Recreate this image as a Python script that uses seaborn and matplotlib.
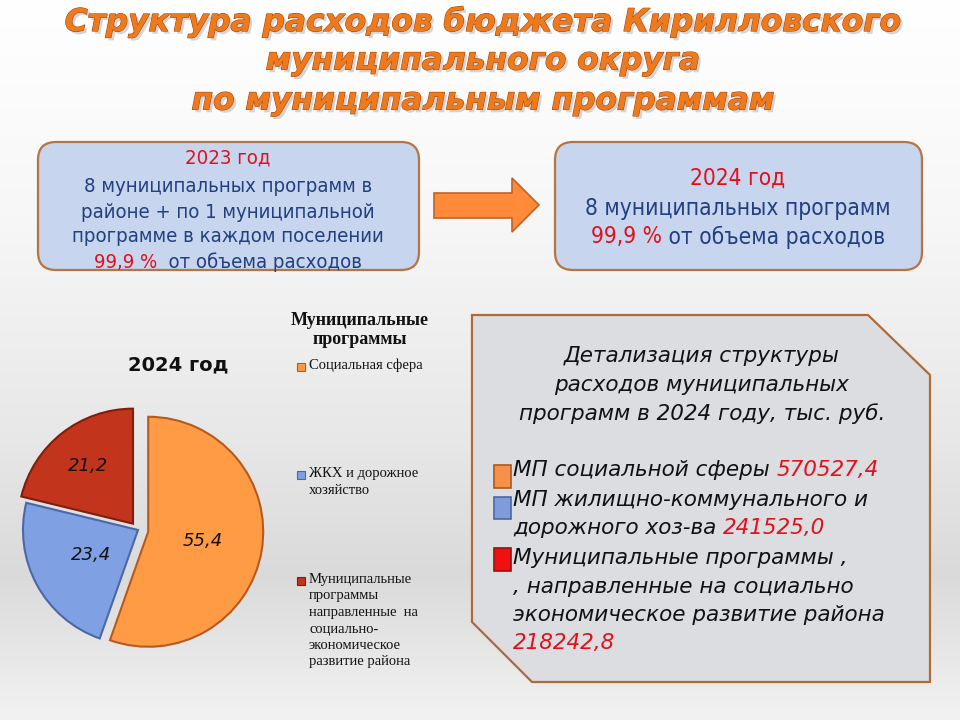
import matplotlib
matplotlib.use('Agg')
import matplotlib.pyplot as plt
import matplotlib.patheffects as pe
from matplotlib.patches import FancyBboxPatch, Polygon, Rectangle
from matplotlib.colors import LinearSegmentedColormap
import numpy as np
import seaborn as sns

# data
shares = [55.4, 23.4, 21.2]
pie_colors = ['#FF9A45', '#7FA1E3', '#C2351C']
pie_edges = ['#B85A1E', '#4A68A8', '#7E1E0E']
legend_title = 'Муниципальные\nпрограммы'
legend_labels = ['Социальная сфера',
                 'ЖКХ и дорожное\nхозяйство',
                 'Муниципальные\nпрограммы\nнаправленные  на\nсоциально-\nэкономическое\nразвитие района']
title_lines = ['Структура расходов бюджета Кирилловского',
               'муниципального округа',
               'по муниципальным программам']
box_2023 = ['8 муниципальных программ в',
            'районе + по 1 муниципальной',
            'программе в каждом поселении']
box_2024 = ['8 муниципальных программ']
share_text = '99,9 %'
amounts = ['570527,4', '241525,0', '218242,8']

sns.set_theme(style='white')
plt.rcParams['font.family'] = ['DejaVu Sans']

fig = plt.figure(figsize=(9.6, 7.2), dpi=100)
bg = fig.add_axes([0, 0, 1, 1])
bg.set_xlim(0, 960)
bg.set_ylim(720, 0)
bg.axis('off')

# background gradient
cmap = LinearSegmentedColormap.from_list('bg', [(0, '#FFFFFF'), (0.3, '#F7F7F8'), (0.6, '#E8E8E9'),
                                                (0.8, '#DADADA'), (1.0, '#F2F2F2')])
grad = np.linspace(0, 1, 256).reshape(-1, 1)
bg.imshow(grad, cmap=cmap, aspect='auto', extent=(0, 960, 720, 0), zorder=0)

renderer = fig.canvas.get_renderer()

def mixed_line(parts, x, y, center=True, **kw):
    texts = [bg.text(0, y, s, color=c, ha='left', va='center', **kw) for s, c in parts]
    widths = [t.get_window_extent(renderer).width for t in texts]
    start = x - sum(widths) / 2 if center else x
    for t, w in zip(texts, widths):
        t.set_x(start)
        start += w

# title
title_fx = [pe.SimplePatchShadow(offset=(2, -2), shadow_rgbFace='#999999', alpha=0.4),
            pe.Stroke(linewidth=0.8, foreground='#A8460A'), pe.Normal()]
for line, y in zip(title_lines, [22, 61, 101]):
    bg.text(483, y, line, ha='center', va='center', fontsize=22.5, fontweight='bold',
            fontstyle='italic', color='#EE7A1E', path_effects=title_fx)

# top boxes
navy = '#23407E'
red = '#E3101C'
box_font = dict(family=['DejaVu Sans'], fontstretch='condensed')
for x0, x1 in [(38, 419), (555, 922)]:
    bg.add_patch(FancyBboxPatch((x0, 142), x1 - x0, 128, boxstyle='round,pad=0,rounding_size=18',
                                fc='#C7D5EF', ec='#B8743E', lw=1.6, zorder=2))
bg.text(228, 158, '2023 год', ha='center', va='center', color=red, fontsize=14.6, zorder=3, **box_font)
for line, y in zip(box_2023, [186, 212, 237]):
    bg.text(228, y, line, ha='center', va='center', color=navy, fontsize=14.6, zorder=3, **box_font)
mixed_line([(share_text, red), ('  от объема расходов', navy)], 228, 262, fontsize=14.6, zorder=3, **box_font)

bg.text(738, 178, '2024 год', ha='center', va='center', color=red, fontsize=16.3, zorder=3, **box_font)
bg.text(738, 208, box_2024[0], ha='center', va='center', color=navy, fontsize=16.3, zorder=3, **box_font)
mixed_line([(share_text, red), (' от объема расходов', navy)], 738, 237, fontsize=16.3, zorder=3, **box_font)

# arrow
arrow = [(434, 193), (512, 193), (512, 178), (539, 205), (512, 232), (512, 218), (434, 218)]
bg.add_patch(Polygon(arrow, closed=True, fc='#FF8A3A', ec='#C0632A', lw=1.2, zorder=2))

# pie
R = 115
cx, cy = 138, 530
size = 2.6 * R
ax = fig.add_axes([(cx - size / 2) / 960, (720 - cy - size / 2) / 720, size / 960, size / 720])
wedges, _, autotexts = ax.pie(shares, colors=pie_colors, startangle=90, counterclock=False,
                              explode=[0.09, 0.0, 0.07],
                              autopct=lambda p: f'{p:.1f}'.replace('.', ','), pctdistance=0.55,
                              wedgeprops=dict(linewidth=1.5))
for w, ec in zip(wedges, pie_edges):
    w.set_edgecolor(ec)
for t, w, r in zip(autotexts, wedges, [0.48, 0.46, 0.64]):
    theta = np.deg2rad((w.theta1 + w.theta2) / 2)
    ox, oy = w.center
    t.set_position((ox + r * np.cos(theta), oy + r * np.sin(theta)))
    t.set_fontsize(13)
    t.set_fontstyle('italic')
    t.set_color('#111111')
ax.set_xlim(-1.3, 1.3)
ax.set_ylim(-1.3, 1.3)
ax.axis('off')

bg.text(178, 365, '2024 год', ha='center', va='center', fontsize=14, fontweight='bold', color='#111111')

# legend
serif = ['Liberation Serif', 'DejaVu Serif']
bg.text(360, 330, legend_title, ha='center', va='center', fontsize=13, fontweight='bold',
        family=serif, linespacing=1.2, color='#111111')
for lab, y, c, ec in zip(legend_labels, [367, 475, 581], pie_colors, pie_edges):
    bg.add_patch(Rectangle((297, y - 4), 8, 8, fc=c, ec=ec, lw=0.8))
    bg.text(309, y - 8, lab, ha='left', va='top', fontsize=10.5, family=serif,
            linespacing=1.35, color='#111111')

# detail box
box = [(472, 315), (868, 315), (930, 375), (930, 682), (532, 682), (472, 622)]
bg.add_patch(Polygon(box, closed=True, fc='#DCDDE1', ec='#B06A35', lw=1.6, zorder=2))
for line, y in zip(['Детализация структуры', 'расходов муниципальных', 'программ в 2024 году, тыс. руб.'],
                   [356, 385, 414]):
    bg.text(702, y, line, ha='center', va='center', fontsize=15.5, fontstyle='italic', color='#111111', zorder=3)

ink = '#111111'
dkw = dict(fontsize=15.5, fontstyle='italic', zorder=3)
mixed_line([('МП социальной сферы ', ink), (amounts[0], red)], 513, 470, center=False, **dkw)
mixed_line([('МП жилищно-коммунального и', ink)], 513, 500, center=False, **dkw)
mixed_line([('дорожного хоз-ва ', ink), (amounts[1], red)], 513, 528, center=False, **dkw)
mixed_line([('Муниципальные программы ,', ink)], 513, 558, center=False, **dkw)
mixed_line([(', направленные на социально', ink)], 513, 587, center=False, **dkw)
mixed_line([('экономическое развитие района', ink)], 513, 615, center=False, **dkw)
mixed_line([(amounts[2], red)], 513, 643, center=False, **dkw)

for (y0, y1), c, ec in zip([(465, 488), (497, 519), (548, 571)], ['#F7914A', '#7E9CD8', '#F01010'],
                           ['#A85A22', '#4A68A8', '#9A1010']):
    bg.add_patch(Rectangle((494, y0), 17, y1 - y0, fc=c, ec=ec, lw=1.2, zorder=3))

fig.savefig('out.png', dpi=100)
